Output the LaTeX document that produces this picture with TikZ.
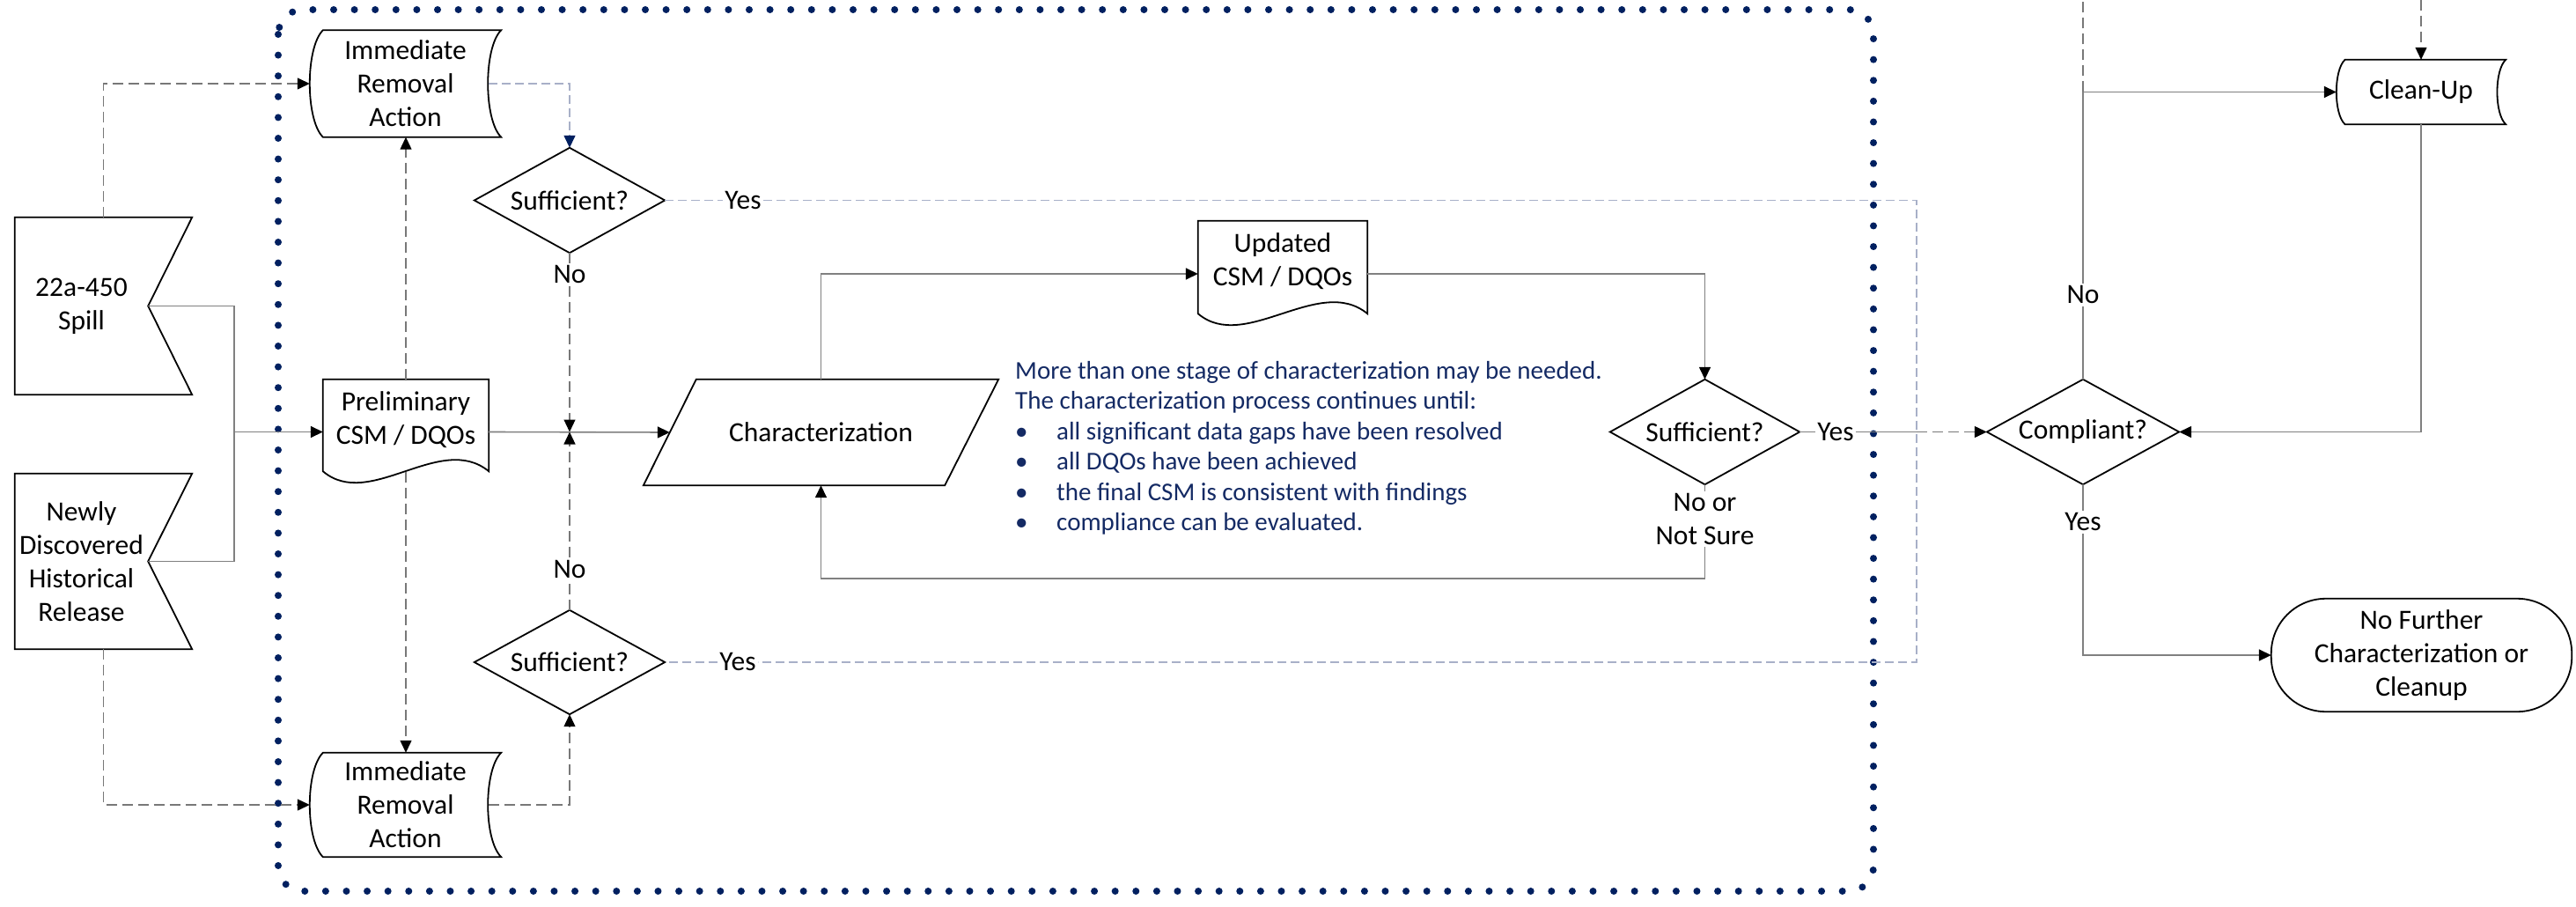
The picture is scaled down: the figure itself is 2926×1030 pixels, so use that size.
\documentclass[tikz,border=0pt]{standalone}
\usepackage{fontspec}
\setmainfont{Carlito}
\usetikzlibrary{arrows.meta}
\definecolor{navy}{RGB}{0,32,96}
\definecolor{notecol}{RGB}{20,42,100}
\definecolor{lgdash}{RGB}{168,176,200}
\definecolor{conncol}{RGB}{128,128,128}
\definecolor{gdashcol}{RGB}{120,120,120}
\newcommand\blackfs{\fontsize{31.5pt}{38pt}\selectfont}
\newcommand\bluefs{\fontsize{29pt}{34.5pt}\selectfont}
\newcommand\bul{\makebox[47pt][l]{\textbullet}}
\newcommand\mystored[3]{\draw[shp] ([xshift=0.75*#2pt]#1.north west) -- (#1.north east)
  .. controls +(-#2,#3) and +(-#2,-#3) .. (#1.south east)
  -- ([xshift=0.75*#2pt]#1.south west)
  .. controls +(-#2,-#3) and +(-#2,#3) .. ([xshift=0.75*#2pt]#1.north west) -- cycle;}
\newcommand\mydoc[1]{\draw[shp] (#1.north west) -- (#1.north east) -- ([yshift=15pt]#1.south east)
  .. controls +(-55,-45) and +(53,45) .. ([yshift=15pt]#1.south west) -- cycle;}
\begin{document}
\begin{tikzpicture}[x=1pt,y=-1pt,
  fr/.style={inner sep=0pt, align=center, font=\blackfs},
  lbl/.style={inner sep=2.5pt, align=center, font=\blackfs},
  note/.style={inner sep=0pt, font=\bluefs, text=notecol},
  shp/.style={draw=black, line width=1.8pt},
  cn/.style={draw=conncol, line width=1.6pt},
  gd/.style={draw=gdashcol, line width=1.2pt, dash pattern=on 12pt off 6pt},
  ld/.style={draw=lgdash, line width=1.4pt, dash pattern=on 10pt off 5pt},
  harrow/.style={-{Triangle[length=14pt,width=13pt,color=black,fill=black]}},
  narrow/.style={-{Triangle[length=14pt,width=13pt,color=navy,fill=navy]}},
  dotbox/.style={draw=navy, line width=8pt, line cap=round, dash pattern=on 0pt off 23.6pt, rounded corners=28pt}]
\useasboundingbox (0,0) rectangle (2926,1030);

% frame
\draw[dotbox] (316,11) rectangle (2128,1012);

% nodes
\node[fr, minimum width=151pt, minimum height=201pt] (spill) at (92.5,347.5) {22a-450\\Spill};
\node[fr, minimum width=151pt, minimum height=199pt] (newly) at (92.5,637.5) {Newly\\Discovered\\Historical\\Release};
\node[fr, minimum width=217pt, minimum height=121pt] (ira1) at (460.5,95) {Immediate\\Removal\\Action};
\node[fr, minimum width=217pt, minimum height=118pt] (ira2) at (460.5,914) {Immediate\\Removal\\Action};
\node[fr, minimum width=216pt, minimum height=119pt] (suff1) at (647,227.5) {Sufficient?};
\node[fr, minimum width=216pt, minimum height=118pt] (suff2) at (647,752) {Sufficient?};
\node[fr, minimum width=188pt, minimum height=119pt] (prelim) at (461,490.5) {};
\node[fr] (prelimtxt) at ([yshift=14pt]prelim.center) {Preliminary\\CSM / DQOs};
\node[fr, minimum width=403pt, minimum height=120pt] (char) at (932.5,491) {Characterization};
\node[fr, minimum width=192pt, minimum height=120pt] (updated) at (1457,311) {};
\node[fr] (updatedtxt) at ([yshift=14.5pt]updated.center) {Updated\\CSM / DQOs};
\node[fr, minimum width=215pt, minimum height=119pt] (suff3) at (1936.5,490.5) {Sufficient?};
\node[fr, minimum width=218pt, minimum height=119pt] (compl) at (2366,490.5) {Compliant?};
\node[fr, minimum width=192pt, minimum height=73pt] (cleanup) at (2750,104.5) {Clean-Up};
\node[fr, minimum width=341pt, minimum height=128pt] (nofurther) at (2750.5,744) {No Further\\Characterization or\\Cleanup};

% outlines
\draw[shp] (spill.north west) -- ([xshift=50pt]spill.north east) -- (spill.east) -- ([xshift=50pt]spill.south east) -- (spill.south west) -- cycle;
\draw[shp] (newly.north west) -- ([xshift=50pt]newly.north east) -- (newly.east) -- ([xshift=50pt]newly.south east) -- (newly.south west) -- cycle;
\mystored{ira1}{20}{20}
\mystored{ira2}{20}{20}
\mystored{cleanup}{13}{12}
\draw[shp] (suff1.north) -- (suff1.east) -- (suff1.south) -- (suff1.west) -- cycle;
\draw[shp] (suff2.north) -- (suff2.east) -- (suff2.south) -- (suff2.west) -- cycle;
\draw[shp] (suff3.north) -- (suff3.east) -- (suff3.south) -- (suff3.west) -- cycle;
\draw[shp] (compl.north) -- (compl.east) -- (compl.south) -- (compl.west) -- cycle;
\mydoc{prelim}
\mydoc{updated}
\draw[shp] ([xshift=60pt]char.north west) -- (char.north east) -- ([xshift=-61pt]char.south east) -- (char.south west) -- cycle;
\draw[shp, rounded corners=62pt] (nofurther.north west) rectangle (nofurther.south east);

% labels
\node[lbl] (no1) at (647,312) {No};
\node[lbl] (no2) at (647,646) {No};
\node[lbl] (yes1) at (844,227.5) {Yes};
\node[lbl] (yes2) at (838,752) {Yes};
\node[lbl] (yes3) at (2085,490.5) {Yes};
\node[lbl] (nns) at (1936.5,589.5) {No or\\Not Sure};
\node[lbl] (no4) at (2366,335) {No};
\node[lbl] (yes4) at (2366,593) {Yes};

% coordinates
\coordinate (jn) at (266,490.5);
\coordinate (m1) at (suff1.south |- prelim.east);
\coordinate (ycA) at (2177,227.5);
\coordinate (ycB) at (2177,752);
\coordinate (ycM) at (2177,490.5);
\coordinate (lb) at (1936.5,657);
\coordinate (cu) at (2366,104.5);
\coordinate (topA) at (2366,0);
\coordinate (topB) at (2750,0);

% connectors
\draw[cn] (spill.east) -| (jn);
\draw[cn] (newly.east) -| (jn);
\draw[cn, harrow] (jn) -- (prelim.west);
\draw[gd, harrow] ([xshift=25pt]spill.north) |- (ira1.west);
\draw[gd, harrow] ([xshift=25pt]newly.south) |- (ira2.west);
\draw[gd, harrow] (prelim.north) -- (prelim.north |- ira1.south);
\draw[gd, harrow] ([yshift=14pt]prelim.south) -- (prelim.south |- ira2.north);
\draw[ld, narrow] ([xshift=-14pt]ira1.east) -| (suff1.north);
\draw[gd, harrow] ([xshift=-14pt]ira2.east) -| (suff2.south);
\draw[cn, harrow] (prelim.east) -- ([xshift=30pt]char.west);
\draw[gd, harrow] (suff1.south) -- (no1) -- (m1);
\draw[gd, harrow] (suff2.north) -- (no2) -- (m1);
\draw[ld] (suff1.east) -- (yes1) -- (ycA) -- (ycB) -- (yes2) -- (suff2.east);
\draw[cn] (suff3.east) -- (yes3) -- (ycM);
\draw[gd, harrow] (ycM) -- (compl.west);
\draw[cn, harrow] (char.north) |- (updated.west);
\draw[cn, harrow] (updated.east) -| (suff3.north);
\draw[cn, harrow] (suff3.south) -- (nns) -- (lb) -| (char.south);
\draw[cn, harrow] (compl.north) -- (no4) -- (cu) -- (cleanup.west);
\draw[gd] (cu) -- (topA);
\draw[gd, harrow] (topB) -- (cleanup.north);
\draw[cn, harrow] (cleanup.south) |- (compl.east);
\draw[cn, harrow] (compl.south) -- (yes4) -- (yes4.south |- nofurther.west) -- (nofurther.west);

% note text
\node[note, anchor=base west] (n1) at (1153,430) {More than one stage of characterization may be needed.};
\node[note, anchor=base west] (n2) at (1153,464.5) {The characterization process continues until:};
\node[note, anchor=base west] (n3) at (1153,499) {\bul all significant data gaps have been resolved};
\node[note, anchor=base west] (n4) at (1153,533.5) {\bul all DQOs have been achieved};
\node[note, anchor=base west] (n5) at (1153,568) {\bul the final CSM is consistent with findings};
\node[note, anchor=base west] (n6) at (1153,602.5) {\bul compliance can be evaluated.};
\end{tikzpicture}
\end{document}
